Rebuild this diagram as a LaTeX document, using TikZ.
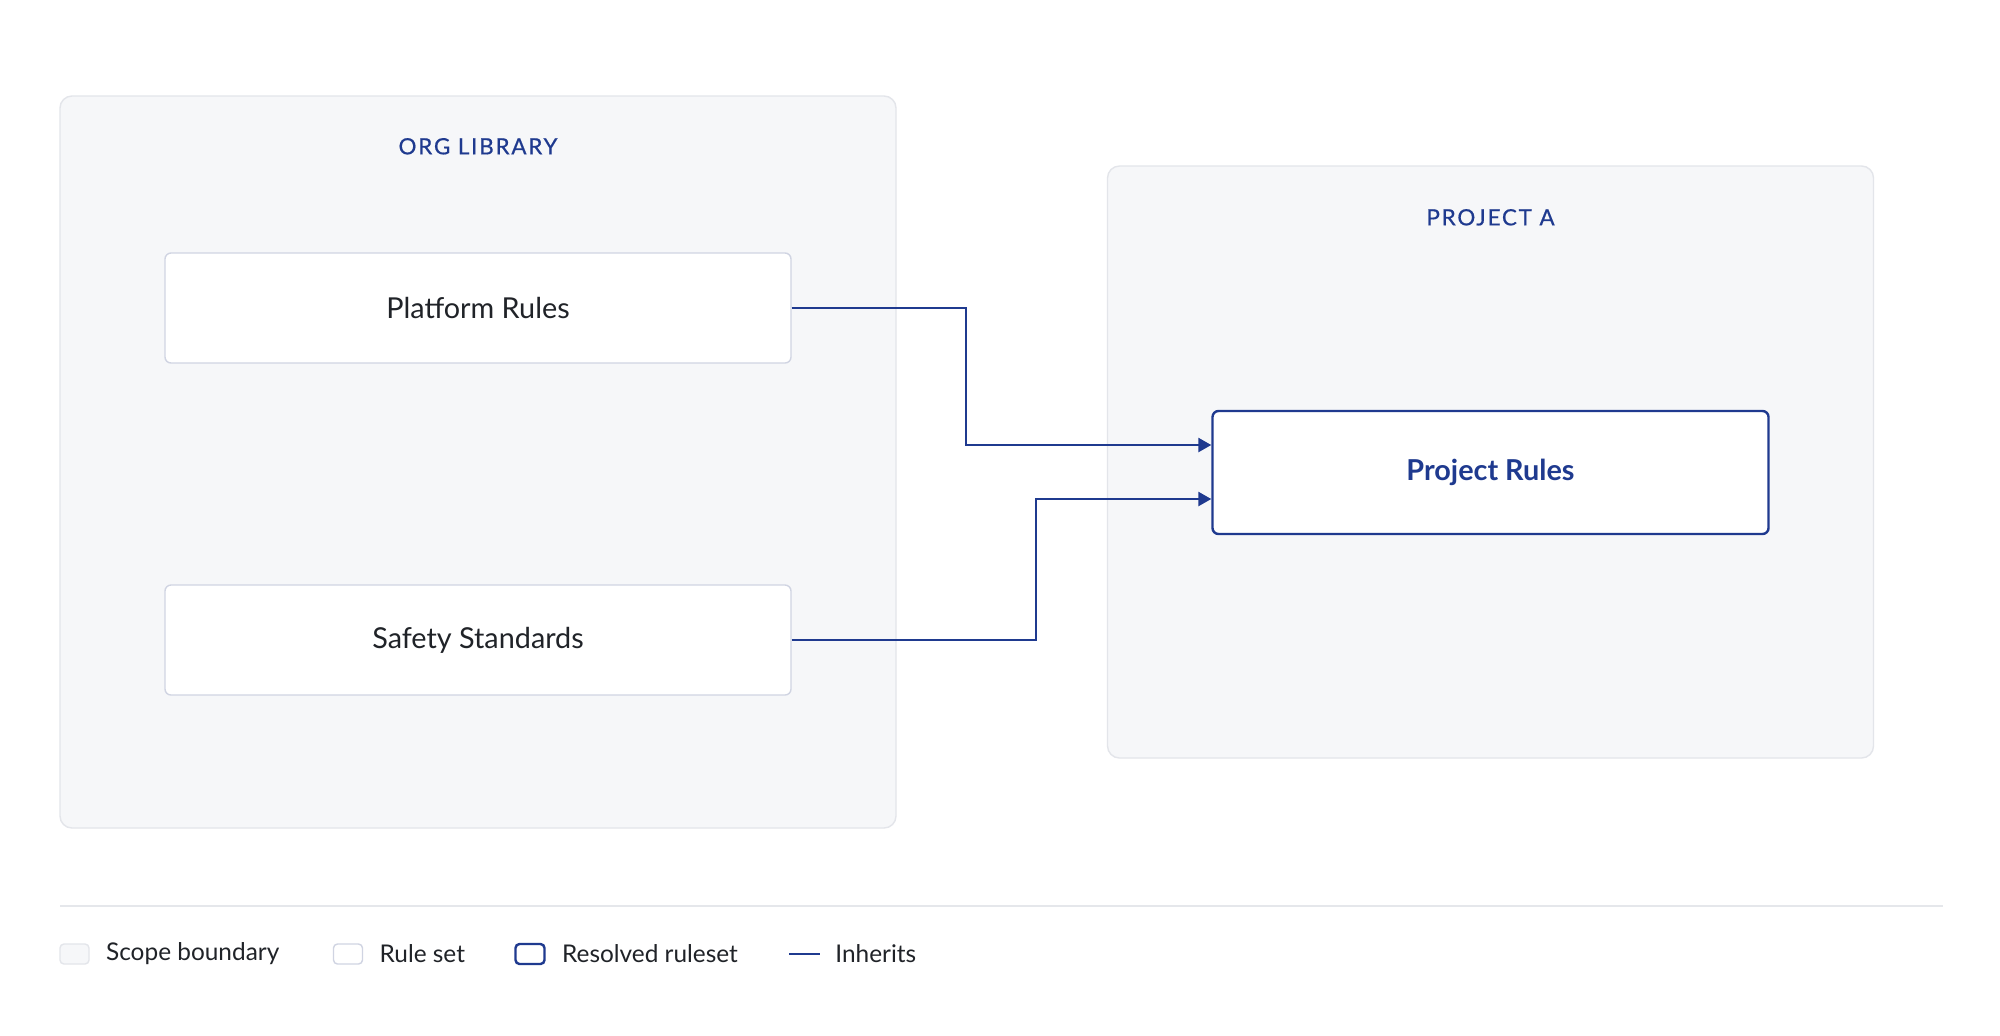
\documentclass[tikz,border=0pt]{standalone}
\usepackage{fontspec}
\setmainfont{Lato}
\usepackage{tikz}
\usetikzlibrary{arrows.meta,positioning,calc}
\usepackage{xcolor}
\definecolor{navy}{HTML}{1F3A8F}
\definecolor{ink}{HTML}{202328}
\definecolor{scopefill}{HTML}{F6F7F9}
\definecolor{scopeline}{HTML}{E3E5EA}
\definecolor{ruleline}{HTML}{D0D4E2}
\definecolor{sepline}{HTML}{E5E7EB}
\tikzset{
scope_b/.style = {rectangle, rounded corners=6pt, draw=scopeline, fill=scopefill, line width=0.7pt},% cadre de portee
scope_t/.style = {text=navy, font=\fontsize{11.2}{13}\selectfont\addfontfeature{LetterSpace=8,FakeBold=0.6}, inner sep=0pt},% titre de portee
rule_n/.style = {rectangle, rounded corners=3pt, draw=ruleline, fill=white, line width=0.7pt, text=ink,
  font=\fontsize{14.4}{17}\selectfont},% jeu de regles
rule_r/.style = {rule_n, draw=navy, line width=1.2pt, text=navy, font=\fontsize{14.4}{17}\selectfont\bfseries},% jeu resolu
inherit/.style = {draw=navy, line width=1.2pt, -{Triangle[length=6.5pt,width=7pt]}},% herite
key_b/.style = {rectangle, rounded corners=2pt, minimum width=14.5pt, minimum height=10pt, inner sep=0pt, line width=0.7pt},% legende
key_t/.style = {text=ink, font=\fontsize{12.2}{14}\selectfont, inner sep=0pt, anchor=west}
}
\begin{document}
\begin{tikzpicture}[x=0.5pt,y=-0.5pt]
  \useasboundingbox[fill=white] (0,0) rectangle (2000,1035);
  % portees
  \node [scope_b, minimum width=418pt, minimum height=366pt] (org) at (478,462) {};
  \node [scope_b, minimum width=383pt, minimum height=296pt] (prj) at (1490.5,462) {};
  \node [scope_t] (orgt) at ([yshift=-25.5pt]org.north) {ORG LIBRARY};
  \node [scope_t] (prjt) at ([yshift=-26pt]prj.north) {PROJECT A};
  % regles
  \node [rule_n, minimum width=313pt, minimum height=55pt] (plat) at (478,308) {Platform Rules};
  \node [rule_n, minimum width=313pt, minimum height=55pt] (safe) at (478,640) {Safety Standards};
  \node [rule_r, minimum width=278pt, minimum height=61.5pt] (proj) at (1490.5,472.5) {Project Rules};
  % heritage
  \draw [inherit] (plat.east) -- ++(174,0) |- ([yshift=13.75pt]proj.west);
  \draw [inherit] (safe.east) -- ++(244,0) |- ([yshift=-13.25pt]proj.west);
  % legende
  \draw [sepline, line width=1pt] (60,906) -- (1943,906);
  \node [key_b, draw=scopeline, fill=scopefill] (k1) at (74.5,954) {};
  \node [key_t, right=8pt of k1] (l1) {Scope boundary};
  \node [key_b, draw=ruleline, fill=white] (k2) at (348,954) {};
  \node [key_t, right=8pt of k2] (l2) {Rule set};
  \node [key_b, draw=navy, fill=white, line width=1.2pt] (k3) at (530,954) {};
  \node [key_t, right=8pt of k3] (l3) {Resolved ruleset};
  \coordinate (k4a) at (789,954);
  \coordinate (k4b) at (820,954);
  \draw [navy, line width=1.2pt] (k4a) -- (k4b);
  \node [key_t, right=7.5pt of k4b] (l4) {Inherits};
\end{tikzpicture}
\end{document}
